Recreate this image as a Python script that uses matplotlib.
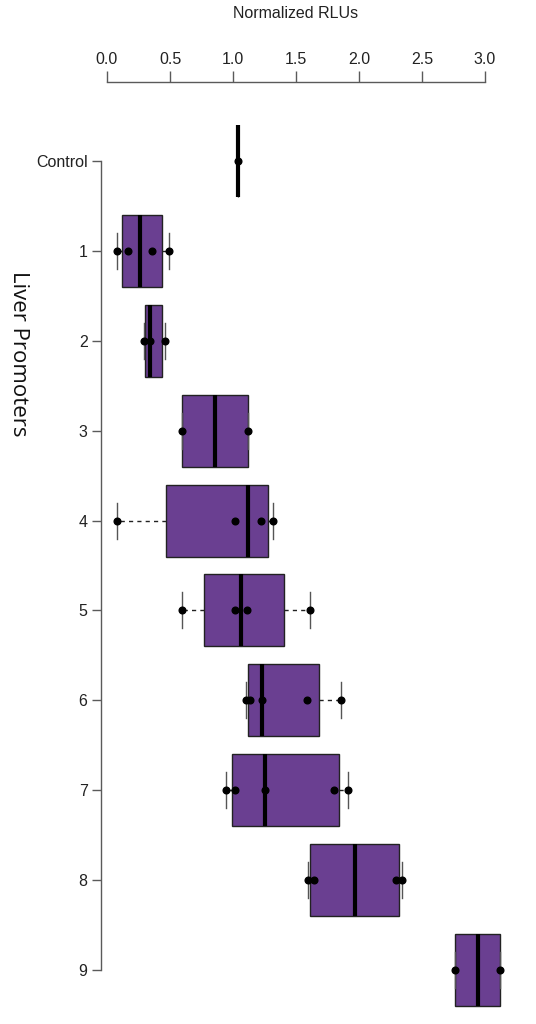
import matplotlib
matplotlib.use("Agg")
import matplotlib.pyplot as plt

# promoter labels, top to bottom
labels = ["Control", "1", "2", "3", "4", "5", "6", "7", "8", "9"]

# box statistics (normalized RLUs)
q1 = [1.04, 0.117, 0.304, 0.598, 0.471, 0.772, 1.119, 0.992, 1.613, 2.762]
med = [1.04, 0.262, 0.344, 0.857, 1.121, 1.066, 1.228, 1.256, 1.966, 2.942]
q3 = [1.04, 0.437, 0.437, 1.117, 1.280, 1.402, 1.680, 1.841, 2.317, 3.117]
whislo = [1.04, 0.077, 0.296, 0.598, 0.079, 0.595, 1.101, 0.947, 1.593, 2.762]
whishi = [1.04, 0.492, 0.458, 1.117, 1.320, 1.609, 1.857, 1.915, 2.339, 3.117]

# individual replicates
points = [
    [1.04],
    [0.077, 0.169, 0.355, 0.492],
    [0.296, 0.344, 0.458],
    [0.595, 1.117],
    [0.079, 1.018, 1.220, 1.320],
    [0.595, 1.018, 1.109, 1.609],
    [1.101, 1.133, 1.228, 1.590, 1.857],
    [0.947, 1.018, 1.256, 1.804, 1.915],
    [1.593, 1.645, 2.291, 2.339],
    [2.762, 3.117],
]

xticks = [0.0, 0.5, 1.0, 1.5, 2.0, 2.5, 3.0]

purple = "#6a3f91"
axis_grey = "#5a5a5a"
plt.rcParams["font.family"] = ["Liberation Sans", "DejaVu Sans"]

fig = plt.figure(figsize=(5.36, 10.24), dpi=100)
ax = fig.add_axes([100.7 / 536, 14 / 1024, 403.2 / 536, 928 / 1024])

pos = list(range(len(labels)))
stats = []
for i in pos:
    stats.append(dict(label=labels[i], q1=q1[i], med=med[i], q3=q3[i],
                      whislo=whislo[i], whishi=whishi[i], fliers=[]))

bp = ax.bxp(stats, positions=pos, widths=0.8, orientation="horizontal",
            patch_artist=True, showfliers=False, capwidths=0.4,
            boxprops=dict(facecolor=purple, edgecolor="#222222", linewidth=1.0),
            medianprops=dict(color="black", linewidth=3.0, solid_capstyle="butt"),
            whiskerprops=dict(color="#222222", linestyle=(0, (3, 3)), linewidth=1.0),
            capprops=dict(color="#555555", linewidth=1.0))

for i, vals in enumerate(points):
    ax.plot(vals, [i] * len(vals), "o", color="black", markersize=4.8,
            zorder=5, clip_on=False)

for artist in ax.get_children():
    if hasattr(artist, "set_clip_on"):
        artist.set_clip_on(False)

ax.set_xlim(-0.05, 3.15)
ax.set_ylim(9.445, -0.879)

ax.xaxis.tick_top()
ax.set_xticks(xticks)
ax.set_xticklabels([f"{t:.1f}" for t in xticks])
ax.set_yticks(pos)
ax.set_yticklabels(labels)

for s in ["right", "bottom"]:
    ax.spines[s].set_visible(False)
ax.spines["top"].set_bounds(0, 3)
ax.spines["left"].set_bounds(0, 9)
for s in ["top", "left"]:
    ax.spines[s].set_color(axis_grey)
    ax.spines[s].set_linewidth(1.0)

ax.tick_params(axis="x", direction="out", length=8, width=1.0, color=axis_grey,
               pad=3, labelsize=11.5, labelcolor="#222222")
ax.tick_params(axis="y", direction="out", length=6.5, width=1.0, color=axis_grey,
               pad=3, labelsize=11.5, labelcolor="#222222")

ax.xaxis.set_label_position("top")
ax.set_xlabel("Normalized RLUs", fontsize=11.5, color="#222222")
ax.xaxis.set_label_coords((296 - 100.7) / 403.2, 1 + (82 - 14) / 928)
ax.xaxis.label.set_verticalalignment("center")

fig.text(18 / 536, 1 - 354 / 1024, "Liver Promoters", rotation=-90,
         ha="center", va="center", fontsize=16,
         family=["Open Sans", "DejaVu Sans"], color="#111111")

fig.savefig("out.png", dpi=100)
